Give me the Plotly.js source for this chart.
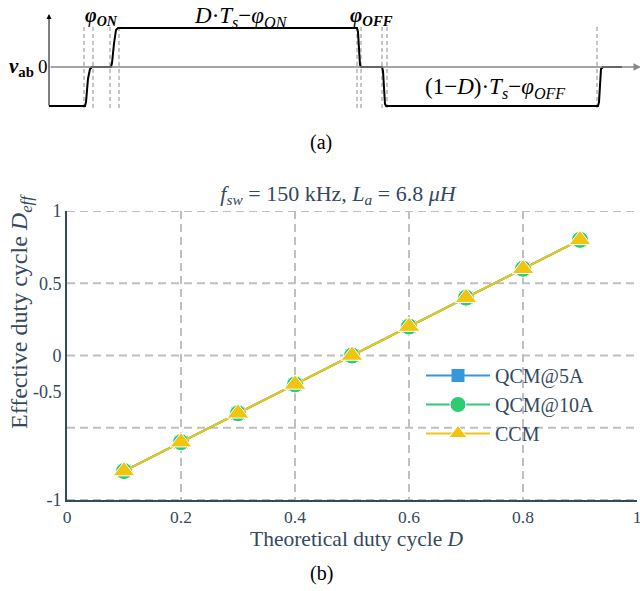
<!DOCTYPE html>
<html><head><meta charset="utf-8">
<script src="https://cdn.plot.ly/plotly-3.0.1.min.js"></script>
<style>html,body{margin:0;padding:0;background:#fff;}</style>
</head><body>
<div id="chart" style="width:640px;height:591px;"></div>
<script>
// ---- data (b) ----
const dutyD = [0.1, 0.2, 0.3, 0.4, 0.5, 0.6, 0.7, 0.8, 0.9];
const qcm5A = [-0.8, -0.6, -0.4, -0.2, 0.0, 0.2, 0.4, 0.6, 0.8];
const qcm10A = [-0.8, -0.6, -0.4, -0.2, 0.0, 0.2, 0.4, 0.6, 0.8];
const ccm = [-0.8, -0.6, -0.4, -0.2, 0.0, 0.2, 0.4, 0.6, 0.8];
const xTickVals = [0, 0.2, 0.4, 0.6, 0.8, 1];
const xTickText = ['0', '0.2', '0.4', '0.6', '0.8', '1'];
const yTickVals = [-1, -0.25, 0, 0.5, 1];
const yTickText = ['-1', '-0.5', '0', '0.5', '1'];
const yGridVals = [-1, -0.5, 0, 0.5, 1];

// ---- schematic (a): v_ab waveform (arbitrary time units) ----
const waveT = [49,85,86,88,90,92,111,112,114,116,118,357,358,359,360,361,382,383,384,385,386,598,599,600,601,603,622];
const waveV = [-1,-1,-0.9,-0.3,-0.05,0,0,0.1,0.6,0.95,1,1,0.9,0.3,0.05,0,0,-0.1,-0.6,-0.95,-1,-1,-0.9,-0.3,-0.05,0,0];
const markT = [84, 93, 110, 119, 357, 361, 382, 387, 597];

const serif = 'Liberation Serif, Times New Roman, serif';
const txt = '#34495e';

const markX = [], markY = [];
markT.forEach(t => { markX.push(t, t, null); markY.push(-1.05, 1.03, null); });

const traces = [
  {x: markX, y: markY, xaxis: 'x2', yaxis: 'y2', mode: 'lines', showlegend: false, hoverinfo: 'skip',
   line: {color: '#8a8a8a', width: 1, dash: '4px,3px'}},
  {x: waveT, y: waveV, xaxis: 'x2', yaxis: 'y2', mode: 'lines', showlegend: false, hoverinfo: 'skip',
   line: {color: '#000', width: 2}},
  {x: dutyD, y: qcm5A, name: 'QCM@5A', mode: 'lines+markers',
   line: {color: '#3498db', width: 2}, marker: {symbol: 'square', size: 13, color: '#3498db'}},
  {x: dutyD, y: qcm10A, name: 'QCM@10A', mode: 'lines+markers',
   line: {color: '#2ecc71', width: 2}, marker: {symbol: 'circle', size: 17, color: '#2ecc71', line: {color: '#fff', width: 1}}},
  {x: dutyD, y: ccm, name: 'CCM', mode: 'lines+markers',
   line: {color: '#f1c40f', width: 2}, marker: {symbol: 'triangle-up', size: 19, color: '#f1c40f', line: {color: '#fff', width: 1}}}
];

const shapes = yGridVals.map(v => ({
  type: 'line', xref: 'x', yref: 'y', x0: 0, x1: 1, y0: v, y1: v, layer: 'below',
  line: {color: '#c0c0c0', width: 2, dash: '8px,5px'}
}));

const A = (o) => Object.assign({showarrow: false, xanchor: 'center', yanchor: 'middle'}, o);

const annotations = [
  // schematic axes
  {xref: 'x2', yref: 'y2', axref: 'x2', ayref: 'y2', x: 641, y: 0, ax: 49, ay: 0, showarrow: true,
   arrowhead: 2, arrowsize: 1, arrowwidth: 1.5, arrowcolor: '#888', text: ''},
  {xref: 'x2', yref: 'y2', axref: 'x2', ayref: 'y2', x: 49, y: 1.36, ax: 49, ay: -1.03, showarrow: true,
   arrowhead: 2, arrowsize: 1, arrowwidth: 1, arrowcolor: '#000', text: ''},
  A({xref: 'x2', yref: 'y2', x: 21, y: 0, font: {family: serif, size: 21, color: '#000'},
   text: '<b><i>v</i></b><sub><b>ab</b></sub>'}),
  A({xref: 'x2', yref: 'y2', x: 43, y: 0, font: {family: serif, size: 19, color: '#000'}, text: '0'}),
  A({xref: 'x2', yref: 'y2', x: 101, y: 1.3, font: {family: serif, size: 20, color: '#000'},
   text: '<b><i>φ</i></b><sub><b><i>ON</i></b></sub>'}),
  A({xref: 'x2', yref: 'y2', x: 241, y: 1.28, font: {family: serif, size: 23, color: '#000'},
   text: '<i>D</i>·<i>T</i><sub><i>s</i></sub>−<i>φ</i><sub><i>ON</i></sub>'}),
  A({xref: 'x2', yref: 'y2', x: 371, y: 1.3, font: {family: serif, size: 21, color: '#000'},
   text: '<b><i>φ</i></b><sub><b><i>OFF</i></b></sub>'}),
  A({xref: 'x2', yref: 'y2', x: 495, y: -0.54, font: {family: serif, size: 23, color: '#000'},
   text: '(1−<i>D</i>)·<i>T</i><sub><i>s</i></sub>−<i>φ</i><sub><i>OFF</i></sub>'}),
  A({xref: 'paper', yref: 'paper', x: 321/640, y: (500-142)/500, font: {family: serif, size: 20, color: '#000'}, text: '(a)'}),
  A({xref: 'paper', yref: 'paper', x: 321/640, y: (500-573)/500, font: {family: serif, size: 20, color: '#000'}, text: '(b)'}),
  // axis titles
  A({xref: 'paper', yref: 'paper', x: 21/640, y: (500-312)/500, textangle: -90,
   font: {family: serif, size: 24, color: txt}, text: 'Effective duty cycle <i>D</i><sub><i>eff</i></sub>'}),
  A({xref: 'paper', yref: 'paper', x: 357/640, y: (500-539)/500,
   font: {family: serif, size: 21.5, color: txt}, text: 'Theoretical duty cycle <i>D</i>'})
];

const layout = {
  width: 640, height: 591,
  margin: {l: 0, r: 0, t: 0, b: 91, pad: 0},
  paper_bgcolor: '#fff', plot_bgcolor: '#fff',
  font: {family: serif, color: txt},
  title: {text: '<i>f</i><sub><i>sw</i></sub> = 150 kHz, <i>L</i><sub><i>a</i></sub> = 6.8 <i>μH</i>',
          x: 338/640, xanchor: 'center', y: 1 - 193/591, yanchor: 'middle', yref: 'container',
          font: {family: serif, size: 22, color: txt}},
  xaxis: {domain: [67/640, 637/640], range: [0, 1], tickvals: xTickVals, ticktext: xTickText,
          showline: true, linecolor: txt, linewidth: 2, zeroline: false,
          showgrid: true, gridcolor: '#c0c0c0', gridwidth: 2, griddash: '8px,5px',
          ticks: '', ticklabeloverflow: 'allow', tickfont: {family: serif, size: 17.5, color: txt},
          fixedrange: true, anchor: 'y'},
  yaxis: {domain: [0, 289/500], range: [-1, 1], tickvals: yTickVals, ticktext: yTickText,
          showline: true, linecolor: txt, linewidth: 2, zeroline: false, showgrid: false,
          ticks: '', tickfont: {family: serif, size: 18, color: txt}, fixedrange: true, anchor: 'x'},
  xaxis2: {domain: [0, 1], range: [0, 640], visible: false, fixedrange: true, anchor: 'y2'},
  yaxis2: {domain: [0.78, 1], range: [-1.103, 1.718], visible: false, fixedrange: true, anchor: 'x2'},
  legend: {x: 421/640, y: (500-356)/500, xanchor: 'left', yanchor: 'top', bgcolor: 'rgba(0,0,0,0)',
           itemwidth: 64, font: {family: serif, size: 20, color: txt}, tracegroupgap: 0},
  shapes: shapes,
  annotations: annotations,
  showlegend: true
};

Plotly.newPlot('chart', traces, layout, {displayModeBar: false, staticPlot: true});
</script>
</body></html>
